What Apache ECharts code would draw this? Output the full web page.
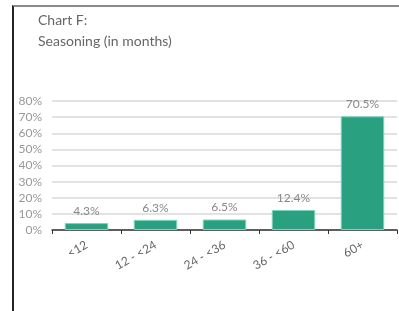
<!DOCTYPE html>
<html>
<head>
<meta charset="utf-8">
<script src="https://cdn.jsdelivr.net/npm/echarts@6/dist/echarts.min.js"></script>
<style>
html,body{margin:0;padding:0;background:#fff;}
#wrap{position:relative;width:399px;height:311px;overflow:hidden;}
#frame{position:absolute;left:12px;top:5px;width:400px;height:320px;border-top:2px solid #8a8a8a;border-left:2px solid #222;box-sizing:border-box;}
#main{position:absolute;left:0;top:0;width:399px;height:311px;}
</style>
</head>
<body>
<div id="wrap">
<div id="frame"></div>
<div id="main"></div>
</div>
<script>
// 数据
var categories = ['<12', '12 - <24', '24 - <36', '36 - <60', '60+'];
var values = [4.3, 6.3, 6.5, 12.4, 70.5];
var titleText = 'Chart F:\nSeasoning (in months)';

var myChart = echarts.init(document.getElementById('main'));
var option = {
	animation: false,
	title: {
		text: titleText,
		left: 33,
		top: 5,
		textStyle: {
			fontFamily: 'Lato',
			fontWeight: 'normal',
			fontSize: 14,
			color: '#666',
			lineHeight: 21
		}
	},
	grid: {
		left: 52,
		right: 2,
		top: 101,
		bottom: 81,
		containLabel: false
	},
	xAxis: {
		type: 'category',
		data: categories,
		axisLine: {lineStyle: {color: '#333', width: 1.5}},
		axisTick: {show: true, length: 4, lineStyle: {color: '#333'}},
		axisLabel: {
			rotate: 30,
			color: '#666',
			fontFamily: 'Lato',
			fontSize: 12,
			margin: 14
		}
	},
	yAxis: {
		type: 'value',
		min: 0,
		max: 80,
		interval: 10,
		axisLine: {show: false},
		axisTick: {show: false},
		splitLine: {lineStyle: {color: '#d9d9d9', width: 1.5}},
		axisLabel: {
			formatter: '{value}%',
			color: '#999',
			fontFamily: 'Lato',
			fontSize: 12,
			margin: 10
		}
	},
	series: [{
		type: 'bar',
		data: values,
		barWidth: '63%',
		itemStyle: {
			color: '#29a180',
			borderColor: '#7fd3b8',
			borderWidth: 1
		},
		label: {
			show: true,
			position: 'top',
			formatter: '{c}%',
			color: '#888',
			fontFamily: 'Lato',
			fontSize: 12,
			distance: 6
		}
	}]
};
myChart.setOption(option);
</script>
</body>
</html>
